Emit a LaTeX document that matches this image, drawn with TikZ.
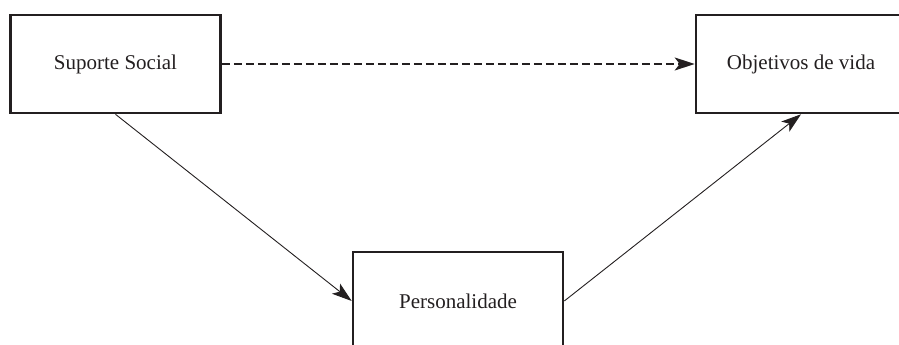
\documentclass[tikz,border=0pt]{standalone}
\usepackage{fontspec}
\setmainfont{Liberation Serif}
\usepackage{xcolor}
\usetikzlibrary{arrows.meta}

\definecolor{ink}{HTML}{231F20}

\begin{document}
\begin{tikzpicture}[x=1pt,y=1pt,
  box/.style={draw=ink,line width=2.6pt,minimum width=210pt,minimum height=98pt,inner sep=0pt,
    font=\fontsize{21}{25}\selectfont,text=ink},
  link/.style={draw=ink,line width=0.9pt,-{Stealth[length=20pt,width=13pt,inset=5pt]}}]
\useasboundingbox (0,0) rectangle (899,345);
\clip (0,0) rectangle (899,345);
\node[box] (suporte) at (115.5,281) {Suporte Social};
\node[box] (objetivos) at (801,281) {Objetivos de vida};
\node[box] (personal) at (458,44) {Personalidade};

\draw[link,line width=2pt,dash pattern=on 8pt off 4pt] (suporte.east) -- (objetivos.west);
\draw[link] (suporte.south) -- (personal.west);
\draw[link] (personal.east) -- (objetivos.south);
\end{tikzpicture}
\end{document}
